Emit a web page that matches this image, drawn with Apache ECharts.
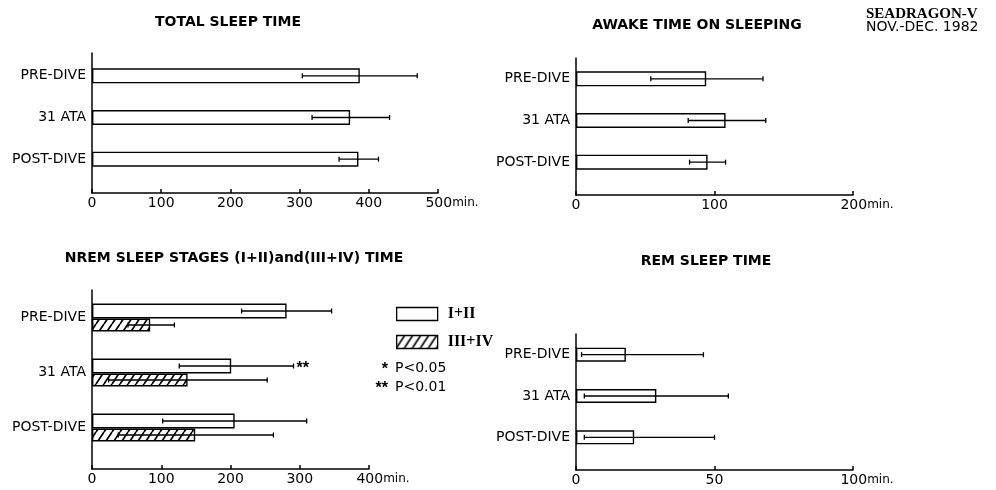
<!DOCTYPE html>
<html>
<head>
<meta charset="utf-8">
<script src="https://cdn.jsdelivr.net/npm/echarts@6/dist/echarts.min.js"></script>
<style>
    html, body { margin: 0; padding: 0; background: #fff; }
    #main { width: 996px; height: 490px; }
</style>
</head>
<body>
<div id="main"></div>
<script>
var categories = ['PRE-DIVE', '31 ATA', 'POST-DIVE'];

// total sleep time (min.)
var totalMean = [387, 373, 385];
var totalLow = [304, 318, 357];
var totalHigh = [470, 430, 414];

// awake time on sleeping (min.)
var awakeMean = [94, 108, 95];
var awakeLow = [54, 81, 82];
var awakeHigh = [135, 137, 108];

// NREM stages I+II and III+IV (min.)
var nrem12Mean = [281, 201, 206];
var nrem12Low = [216, 126, 102];
var nrem12High = [346, 291, 310];
var nrem12Sig = ['', '**', ''];
var nrem34Mean = [84, 138, 149];
var nrem34Low = [52, 24, 38];
var nrem34High = [119, 253, 262];

// REM sleep time (min.)
var remMean = [18, 29, 21];
var remLow = [2, 3, 3];
var remHigh = [46, 55, 50];

var SANS = 'DejaVu Sans';
var line = { color: '#000', width: 1.5 };

// hatch for III+IV  (////)
var hatch = document.createElement('canvas');
hatch.width = 8;
hatch.height = 12;
var hc = hatch.getContext('2d');
hc.strokeStyle = '#000';
hc.lineWidth = 1.7;
hc.beginPath();
hc.moveTo(0, 12); hc.lineTo(8, 0);
hc.moveTo(-8, 12); hc.lineTo(0, 0);
hc.moveTo(8, 12); hc.lineTo(16, 0);
hc.stroke();

function frameX(grid, max, step) {
    return {
        type: 'value', gridIndex: grid, min: 0, max: max, interval: step,
        axisLine: { show: true, onZero: false, lineStyle: line },
        axisTick: { show: true, inside: true, length: 4, lineStyle: line },
        splitLine: { show: false },
        axisLabel: {
            margin: 3, color: '#000', fontFamily: SANS, fontSize: 14,
            formatter: function (v) {
                return v === max ? '{pad| }' + v + '{u|min.}' : '' + v;
            },
            rich: {
                pad: { width: 28, fontSize: 14 },
                u: { fontFamily: SANS, fontSize: 12, color: '#000' }
            }
        }
    };
}

function frameY(grid) {
    return {
        type: 'value', gridIndex: grid, min: 0, max: 1,
        axisLine: { show: true, onZero: false, lineStyle: line },
        axisTick: { show: false }, axisLabel: { show: false }, splitLine: { show: false }
    };
}

function barX(grid, max) {
    return { type: 'value', gridIndex: grid, min: 0, max: max, show: false };
}

function barY(grid) {
    return {
        type: 'category', gridIndex: grid, data: categories, inverse: true,
        axisLine: { show: false }, axisTick: { show: false }, splitLine: { show: false },
        axisLabel: { margin: 6, color: '#000', fontFamily: SANS, fontSize: 14 }
    };
}

function barSeries(axis, name, data, width, fill) {
    return {
        type: 'bar', name: name, xAxisIndex: axis, yAxisIndex: axis,
        data: data, barWidth: width, barGap: '0%', silent: true,
        itemStyle: { color: fill || '#fff', borderColor: '#000', borderWidth: 1.4 }
    };
}

function errorSeries(axis, low, high, offset, marks) {
    var rows = [];
    for (var i = 0; i < categories.length; i++) {
        rows.push([i, low[i], high[i]]);
    }
    return {
        type: 'custom', xAxisIndex: axis, yAxisIndex: axis, z: 5, silent: true,
        dimensions: ['cat', 'low', 'high'],
        encode: { y: 0, x: [1, 2] },
        data: rows,
        renderItem: function (params, api) {
            var c = api.value(0);
            var a = api.coord([api.value(1), c]);
            var b = api.coord([api.value(2), c]);
            var y = a[1] + offset;
            var st = { stroke: '#000', lineWidth: 1.3 };
            var kids = [
                { type: 'line', shape: { x1: a[0], y1: y, x2: b[0], y2: y }, style: st },
                { type: 'line', shape: { x1: a[0], y1: y - 2.5, x2: a[0], y2: y + 2.5 }, style: st },
                { type: 'line', shape: { x1: b[0], y1: y - 2.5, x2: b[0], y2: y + 2.5 }, style: st }
            ];
            var m = marks ? marks[params.dataIndex] : '';
            if (m) {
                kids.push({
                    type: 'text', x: b[0] + 3, y: y + 3,
                    style: { text: m, font: 'bold 16px "Liberation Sans"', fill: '#000',
                             textAlign: 'left', textVerticalAlign: 'middle' }
                });
            }
            return { type: 'group', children: kids };
        }
    };
}

function txt(x, y, text, font, align) {
    return {
        type: 'text', x: x, y: y, silent: true,
        style: { text: text, font: font, fill: '#000',
                 textAlign: align || 'center', textVerticalAlign: 'middle' }
    };
}

var chart = echarts.init(document.getElementById('main'), null, { renderer: 'canvas' });

var option = {
    backgroundColor: '#fff',
    animation: false,
    grid: [
        { left: 92, top: 53, width: 346, height: 140, outerBoundsMode: 'none' },
        { left: 92, top: 55, width: 346, height: 125, outerBoundsMode: 'none' },
        { left: 576, top: 58, width: 277, height: 137, outerBoundsMode: 'none' },
        { left: 576, top: 58, width: 277, height: 125, outerBoundsMode: 'none' },
        { left: 92, top: 290, width: 277, height: 179, outerBoundsMode: 'none' },
        { left: 92, top: 290, width: 277, height: 165, outerBoundsMode: 'none' },
        { left: 576, top: 334, width: 277, height: 136, outerBoundsMode: 'none' },
        { left: 576, top: 334, width: 277, height: 124, outerBoundsMode: 'none' }
    ],
    xAxis: [
        frameX(0, 500, 100), barX(1, 500),
        frameX(2, 200, 100), barX(3, 200),
        frameX(4, 400, 100), barX(5, 400),
        frameX(6, 100, 50), barX(7, 100)
    ],
    yAxis: [
        frameY(0), barY(1),
        frameY(2), barY(3),
        frameY(4), barY(5),
        frameY(6), barY(7)
    ],
    legend: {
        orient: 'vertical', left: 396, top: 306, padding: 0,
        itemWidth: 41, itemHeight: 13, itemGap: 12, icon: 'rect',
        selectedMode: false, data: ['I+II', 'III+IV'],
        itemStyle: { borderColor: '#000', borderWidth: 1.3 },
        textStyle: { fontFamily: 'Liberation Serif', fontWeight: 'bold', fontSize: 16,
                     color: '#000', lineHeight: 13, padding: [0, 0, 0, 5] }
    },
    series: [
        barSeries(1, 'total', totalMean, 15),
        errorSeries(1, totalLow, totalHigh, 0),
        barSeries(3, 'awake', awakeMean, 15),
        errorSeries(3, awakeLow, awakeHigh, 0),
        barSeries(5, 'I+II', nrem12Mean, 15),
        barSeries(5, 'III+IV', nrem34Mean, 13, { image: hatch, repeat: 'repeat' }),
        errorSeries(5, nrem12Low, nrem12High, -6.5, nrem12Sig),
        errorSeries(5, nrem34Low, nrem34High, 7.5),
        barSeries(7, 'rem', remMean, 14),
        errorSeries(7, remLow, remHigh, 0)
    ],
    graphic: [
        txt(228, 22, 'TOTAL SLEEP TIME', 'bold 14px "DejaVu Sans"'),
        txt(697, 25, 'AWAKE TIME ON SLEEPING', 'bold 14px "DejaVu Sans"'),
        txt(234, 258, 'NREM SLEEP STAGES (I+II)and(III+IV) TIME', 'bold 14px "DejaVu Sans"'),
        txt(706, 261, 'REM SLEEP TIME', 'bold 14px "DejaVu Sans"'),
        txt(866, 14, 'SEADRAGON-V', 'bold 15px "Liberation Serif"', 'left'),
        txt(866, 27, 'NOV.-DEC. 1982', '14px "DejaVu Sans"', 'left'),
        txt(388, 370, '*', 'bold 16px "Liberation Sans"', 'right'),
        txt(395, 368, 'P<0.05', '14px "DejaVu Sans"', 'left'),
        txt(388, 389, '**', 'bold 16px "Liberation Sans"', 'right'),
        txt(395, 387, 'P<0.01', '14px "DejaVu Sans"', 'left')
    ]
};

chart.setOption(option);
</script>
</body>
</html>
